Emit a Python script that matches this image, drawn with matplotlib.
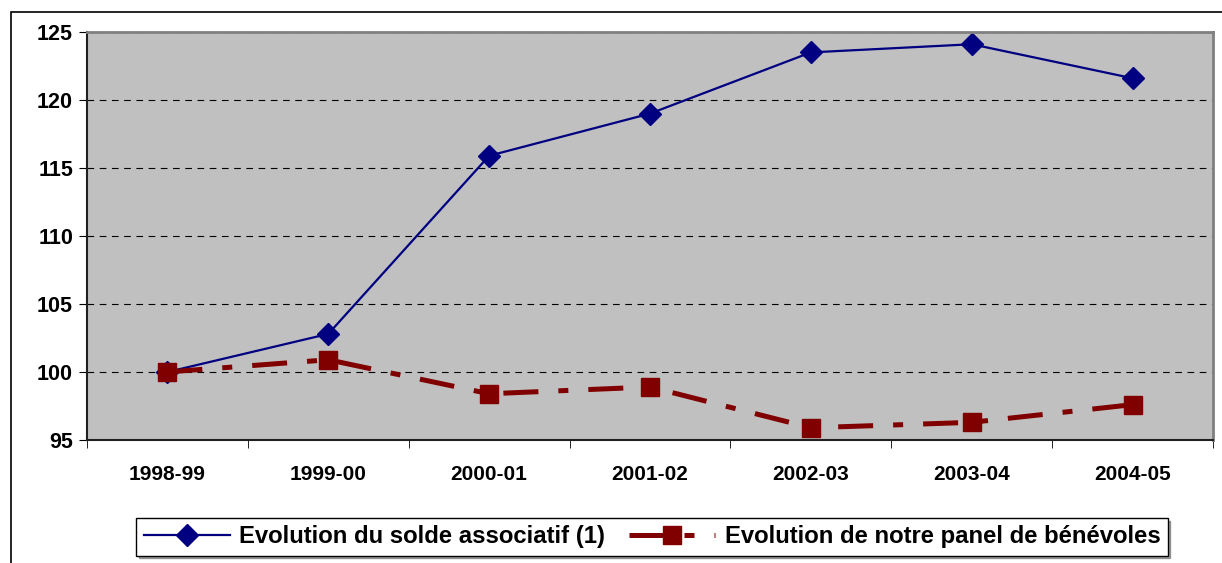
import matplotlib.pyplot as plt
from matplotlib.patches import Rectangle

plt.rcParams["font.family"] = ["Liberation Sans", "DejaVu Sans"]
plt.rcParams["font.weight"] = "bold"

seasons = ["1998-99", "1999-00", "2000-01", "2001-02", "2002-03", "2003-04", "2004-05"]
solde = [100.0, 102.8, 115.9, 119.0, 123.5, 124.1, 121.6]
panel = [100.0, 100.9, 98.4, 98.9, 95.9, 96.3, 97.6]

fig = plt.figure(figsize=(12.22, 5.63), dpi=100)
fig.patches.append(Rectangle((11 / 1222, -0.1), 1.2, 1 - 12 / 563 + 0.1,
                             transform=fig.transFigure, fill=False,
                             edgecolor="black", linewidth=1.2))

ax = fig.add_axes([87 / 1222, 1 - 440 / 563, 1126 / 1222, 408 / 563])
ax.set_facecolor("#c0c0c0")
x = range(len(seasons))
ax.plot(x, solde, color="#000080", linewidth=1.6, marker="D", markersize=11.5,
        label="Evolution du solde associatif (1)")
ax.plot(x, panel, color="#800000", linewidth=3.6, marker="s", markersize=13,
        dashes=(7, 4, 2, 4), label="Evolution de notre panel de bénévoles")

ax.set_xlim(-0.5, 6.5)
ax.set_ylim(95, 125)
ax.set_yticks(range(95, 126, 5))
ax.set_xticks(x)
ax.set_xticklabels(seasons)
ax.set_xticks([i - 0.5 for i in range(8)], minor=True)
ax.tick_params(axis="x", which="major", length=0, pad=18, labelsize=15)
ax.tick_params(axis="x", which="minor", length=6, direction="out")
ax.tick_params(axis="y", length=6, direction="out", labelsize=15.5, pad=4)
for t in ax.get_yticklabels() + ax.get_xticklabels():
    t.set_fontweight("bold")
ax.grid(axis="y", color="black", linestyle=(0, (6, 5)), linewidth=0.8)
ax.set_axisbelow(True)
for s in ["top", "right"]:
    ax.spines[s].set_color("#808080")
    ax.spines[s].set_linewidth(2)
for s in ["left", "bottom"]:
    ax.spines[s].set_color("#202020")
    ax.spines[s].set_linewidth(1.5)

leg = fig.legend(loc="center", bbox_to_anchor=(652 / 1222, 1 - 537 / 563),
                 ncol=2, frameon=True, fancybox=False, shadow=True,
                 edgecolor="black", fontsize=17.2, handlelength=3.6,
                 columnspacing=1.0, handletextpad=0.4, borderpad=0.3)
leg.get_frame().set_linewidth(1)
for t in leg.get_texts():
    t.set_fontweight("bold")

fig.savefig("out.png", dpi=100)
